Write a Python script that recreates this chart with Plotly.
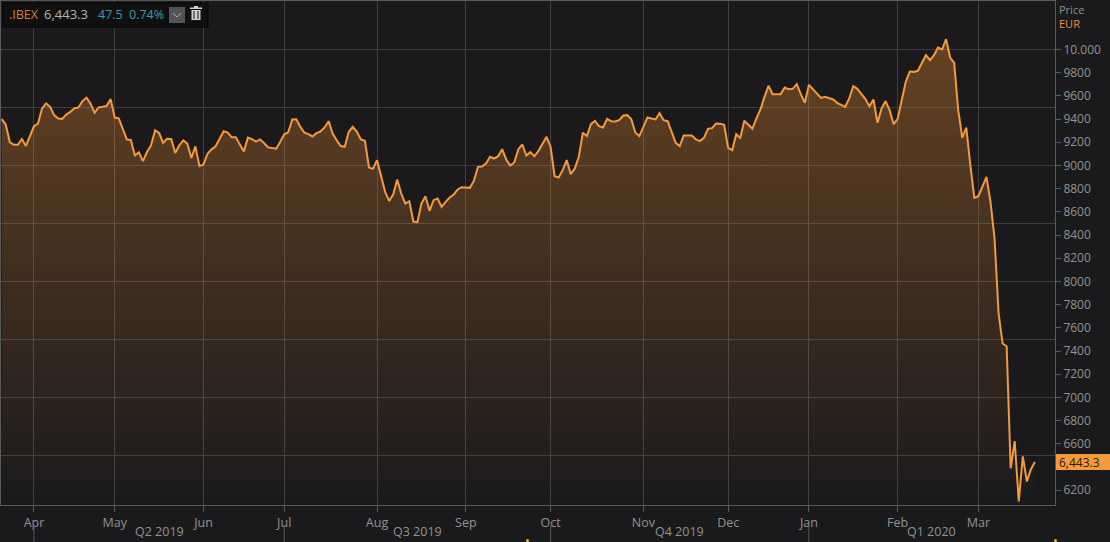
"""IBEX daily close, one year to March 2020, in the dark terminal chart style."""

from itertools import accumulate

import plotly.graph_objects as go

# closes, split by calendar month of the session
closes_late_mar = [9399, 9353, 9202, 9179, 9179, 9228, 9168, 9246]
closes_apr = [9338, 9361, 9491, 9535, 9506, 9434, 9405, 9402, 9439, 9462,
              9491, 9500, 9555, 9584, 9535, 9454, 9500, 9506, 9514, 9572]
closes_may = [9413, 9407, 9318, 9225, 9220, 9087, 9113, 9038, 9116, 9173, 9303,
              9280, 9194, 9231, 9228, 9107, 9173, 9217, 9188, 9064, 9165, 8994]
closes_jun = [9009, 9101, 9139, 9165, 9231, 9295, 9283, 9243, 9243, 9188,
              9121, 9240, 9228, 9205, 9225, 9194, 9156, 9150, 9145, 9202]
closes_jul = [9269, 9286, 9397, 9399, 9333, 9282, 9270, 9250, 9279, 9293, 9328, 9382,
              9276, 9218, 9167, 9161, 9290, 9333, 9290, 9224, 9213, 8983, 8971]
closes_aug = [9046, 8902, 8773, 8695, 8750, 8879, 8758, 8672, 8692, 8517, 8511,
              8672, 8735, 8609, 8701, 8715, 8644, 8687, 8724, 8750, 8793, 8813]
closes_sep = [8813, 8807, 8868, 8988, 8991, 9017, 9075, 9060, 9080, 9141, 9052,
              9000, 9026, 9138, 9181, 9086, 9115, 9080, 9126, 9190, 9247]
closes_oct = [9161, 8908, 8896, 8960, 9046, 8925, 8974, 9075, 9282, 9253, 9356, 9385,
              9339, 9328, 9402, 9382, 9379, 9391, 9431, 9434, 9399, 9284, 9253]
closes_nov = [9333, 9414, 9405, 9397, 9451, 9391, 9382, 9290, 9195, 9167, 9259,
              9259, 9259, 9224, 9210, 9238, 9316, 9322, 9362, 9359, 9351]
closes_dec = [9152, 9132, 9270, 9238, 9385, 9353, 9316, 9405, 9483, 9592,
              9687, 9615, 9618, 9615, 9672, 9658, 9661, 9701, 9615, 9540]
closes_jan = [9695, 9655, 9615, 9583, 9592, 9580, 9569, 9540, 9523, 9506, 9578,
              9684, 9661, 9615, 9572, 9511, 9569, 9368, 9491, 9555, 9477, 9356]
closes_feb = [9402, 9563, 9721, 9810, 9807, 9816, 9885, 9951, 9908, 9951,
              10017, 10000, 10089, 9931, 9885, 9477, 9241, 9327, 9003, 8721]
closes_mar = [8735, 8816, 8902, 8687, 8371, 7724, 7465, 7442,
              6390, 6623, 6103, 6492, 6276, 6379, 6443.3]

month_labels = ["Apr", "May", "Jun", "Jul", "Aug", "Sep", "Oct", "Nov", "Dec", "Jan", "Feb", "Mar"]
month_closes = [closes_apr, closes_may, closes_jun, closes_jul, closes_aug, closes_sep,
                closes_oct, closes_nov, closes_dec, closes_jan, closes_feb, closes_mar]
quarter_labels = ["Q2 2019", "Q3 2019", "Q4 2019", "Q1 2020"]
quarter_first_months = ["Apr", "Jul", "Oct", "Jan"]

# 6400 is left out: the last price box sits on top of it
price_ticks = [6200, 6600, 6800, 7000, 7200, 7400, 7600, 7800, 8000, 8200,
               8400, 8600, 8800, 9000, 9200, 9400, 9600, 9800, 10000]
price_tick_text = [f"{p}" if p < 10000 else "10.000" for p in price_ticks]
grid_levels = list(range(6500, 10001, 500))

closes = closes_late_mar + [c for month in month_closes for c in month]
sessions = list(range(len(closes)))
month_starts = list(accumulate([len(m) for m in month_closes[:-1]], initial=len(closes_late_mar)))
last_close = closes[-1]

BG = "#1a1a1c"
GRID = "#3f3f40"
FRAME = "#5a5a5b"
TICK_TEXT = "#929293"
LINE = "#f39a3e"
FONT = "Open Sans"
X_RANGE = [-0.17, 260.98]
Y_RANGE = [6073, 10418]

fig = go.Figure(
    go.Scatter(
        x=sessions,
        y=closes,
        mode="lines",
        line=dict(color=LINE, width=2),
        fill="tozeroy",
        fillgradient=dict(
            type="vertical",
            start=Y_RANGE[0],
            stop=max(closes),
            colorscale=[[0, "rgba(255,150,50,0.0)"], [1, "rgba(255,150,50,0.33)"]],
        ),
        hoverinfo="skip",
    )
)


def hline(y):
    return dict(type="line", xref="paper", yref="y", x0=0, x1=1, y0=y, y1=y,
                line=dict(color=GRID, width=1), layer="below")


def px_shape(kind, x0, y0, x1, y1, **kw):
    # pixel positions on the page, for the chrome around the plot
    return dict(type=kind, xref="paper", yref="paper", x0=(x0 - 1) / 1054, x1=(x1 - 1) / 1054,
                y0=(505 - y0) / 504, y1=(505 - y1) / 504, **kw)


def px_text(x, y, text, color, size=12.5, anchor="left", **kw):
    return dict(xref="paper", yref="paper", x=(x - 1) / 1054, y=(505 - y) / 504, text=text,
                showarrow=False, xanchor=anchor, yanchor="middle",
                font=dict(family=FONT, size=size, color=color), **kw)


shapes = [hline(y) for y in grid_levels]

# longer marks under the axis where a quarter begins
for month in quarter_first_months:
    idx = month_starts[month_labels.index(month)]
    shapes.append(dict(type="line", xref="x", yref="paper", x0=idx, x1=idx, y0=-20 / 504, y1=-37 / 504,
                       line=dict(color=FRAME, width=1)))

# ticker box, dropdown button, bin icon, last price box
shapes += [
    px_shape("rect", 3, 3, 208, 27, fillcolor="#101011", line=dict(color="#050505", width=1)),
    px_shape("rect", 169, 7, 185, 23, fillcolor="#545458", line=dict(width=0)),
    dict(type="path", xref="paper", yref="paper", line=dict(color="#a8a8a8", width=1),
         path=" ".join(f"{c} {(x - 1) / 1054} {(505 - y) / 504}" for c, x, y in
                       [("M", 173, 13), ("L", 177, 17), ("L", 181, 13)])),
    px_shape("rect", 191.5, 10, 200.5, 20, fillcolor="#d0d0d0", line=dict(width=0)),
    px_shape("rect", 190, 7.5, 202, 9, fillcolor="#d0d0d0", line=dict(width=0)),
    px_shape("rect", 194, 6, 198, 8, fillcolor="#d0d0d0", line=dict(width=0)),
    px_shape("line", 194, 11, 194, 19, line=dict(color="#101011", width=1)),
    px_shape("line", 198, 11, 198, 19, line=dict(color="#101011", width=1)),
    px_shape("rect", 1056, 454, 1110, 470, fillcolor=LINE, line=dict(width=0)),
    # handles cut off by the bottom edge
    px_shape("circle", 526, 539, 529, 542, fillcolor="#e8b070", line=dict(width=0)),
    px_shape("circle", 1054, 539, 1057, 542, fillcolor="#e8b070", line=dict(width=0)),
]

# quarter labels sit midway between the quarter's start and its end (or the axis end)
quarter_starts = [month_starts[month_labels.index(m)] for m in quarter_first_months] + [X_RANGE[1]]
annotations = [
    dict(xref="x", yref="paper", x=(quarter_starts[i] + quarter_starts[i + 1]) / 2, y=-26 / 504,
         text=label, showarrow=False, yanchor="middle",
         font=dict(family=FONT, size=12.5, color=TICK_TEXT))
    for i, label in enumerate(quarter_labels)
]
annotations += [
    px_text(7, 14, ".IBEX", "#dd7b3c"),
    px_text(42, 14, "6,443.3", "#b5b5b5", size=13),
    px_text(96, 14, "47.5", "#2f9fb8", size=12.5),
    px_text(127, 14, "0.74%", "#2f9fb8", size=12.5),
    px_text(1057, 16, "Price<br><span style='color:#e88f3f'>EUR</span>", TICK_TEXT, size=11, align="left"),
    dict(xref="paper", yref="y", x=1, y=last_close, xanchor="left", yanchor="middle", xshift=2,
         text=f"{last_close:,.1f}", showarrow=False,
         font=dict(family=FONT, size=12, color="#2a1a08")),
]

fig.update_layout(
    width=1110,
    height=542,
    margin=dict(l=1, r=55, t=1, b=37),
    paper_bgcolor=BG,
    plot_bgcolor=BG,
    showlegend=False,
    shapes=shapes,
    annotations=annotations,
    font=dict(family=FONT, size=12, color=TICK_TEXT),
    xaxis=dict(
        range=X_RANGE,
        tickmode="array",
        tickvals=month_starts,
        ticktext=month_labels,
        ticks="outside",
        ticklen=6,
        tickcolor=FRAME,
        tickfont=dict(size=12.5),
        showgrid=True,
        gridcolor=GRID,
        gridwidth=1,
        zeroline=False,
        showline=True,
        linecolor=FRAME,
        mirror=True,
    ),
    yaxis=dict(
        side="right",
        range=Y_RANGE,
        tickmode="array",
        tickvals=price_ticks,
        ticktext=price_tick_text,
        ticks="outside",
        ticklen=5,
        tickcolor=FRAME,
        showgrid=False,
        zeroline=False,
        showline=True,
        linecolor=FRAME,
        mirror=True,
    ),
)

fig.write_html("out.html", config={"displayModeBar": False},
               post_script="document.body.style.margin = '0';")
